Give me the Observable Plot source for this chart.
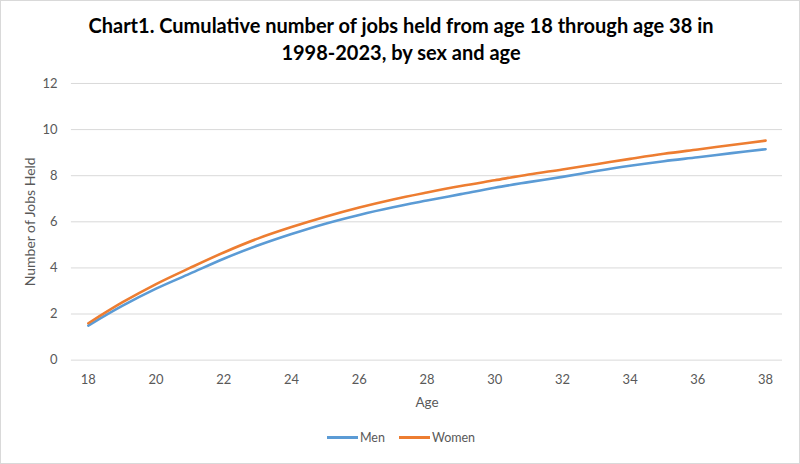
<!DOCTYPE html>
<html>
<head>
<meta charset="utf-8">
<script src="https://cdn.jsdelivr.net/npm/d3@7"></script>
<script src="https://cdn.jsdelivr.net/npm/@observablehq/plot@0.6"></script>
<style>
  html, body { margin: 0; padding: 0; background: #fff; }
  #wrap { position: relative; width: 800px; height: 464px; box-sizing: border-box; border: 1px solid #d9d9d9; overflow: hidden; font-family: Lato, "Open Sans", sans-serif; }
  #title { position: absolute; left: 0; top: 11px; width: 800px; text-align: center; font-weight: bold; font-size: 20px; line-height: 27px; color: #000; }
  #chart { position: absolute; left: -1px; top: 65px; }
  #legend { position: absolute; left: 0; top: 429px; width: 800px; display: flex; justify-content: center; gap: 14px; font-size: 12.5px; color: #595959; }
  .item { display: flex; align-items: center; gap: 2px; }
  .sw { width: 31px; height: 3px; display: inline-block; }
</style>
</head>
<body>
<div id="wrap">
  <div id="title">Chart1. Cumulative number of jobs held from age 18 through age 38 in<br>1998-2023, by sex and age</div>
  <div id="chart"></div>
  <div id="legend"></div>
</div>
<script>
const ages = [18,19,20,21,22,23,24,25,26,27,28,29,30,31,32,33,34,35,36,37,38];
const men = [1.5,2.35,3.1,3.75,4.4,4.97,5.47,5.92,6.3,6.63,6.92,7.2,7.48,7.72,7.95,8.2,8.43,8.63,8.8,8.98,9.15];
const women = [1.6,2.5,3.3,4.0,4.67,5.27,5.77,6.22,6.62,6.97,7.27,7.55,7.8,8.05,8.27,8.5,8.73,8.95,9.14,9.33,9.52];
const seriesNames = ["Men", "Women"];
const seriesColors = ["#5B9BD5", "#ED7D31"];
const xTicks = [18,20,22,24,26,28,30,32,34,36,38];
const yTicks = [0,2,4,6,8,10,12];

const rows = [];
ages.forEach((a, i) => {
  rows.push({age: a, value: men[i], sex: "Men"});
  rows.push({age: a, value: women[i], sex: "Women"});
});

const plot = Plot.plot({
  width: 800,
  height: 350,
  marginLeft: 71,
  marginRight: 17,
  marginTop: 17,
  marginBottom: 56,
  style: {fontFamily: "Lato, 'Open Sans', sans-serif", fontSize: "13px", color: "#595959", background: "transparent"},
  x: {domain: [17.5, 38.5], ticks: xTicks, tickSize: 0, tickPadding: 14, label: null},
  y: {domain: [0, 12], ticks: yTicks, tickSize: 0, tickPadding: 14, label: null},
  color: {domain: seriesNames, range: seriesColors},
  marks: [
    Plot.gridY(yTicks, {stroke: "#d9d9d9", strokeOpacity: 1, strokeWidth: 1}),
    Plot.axisX({ticks: xTicks, tickSize: 0, tickPadding: 15, fontSize: 13, fill: "#595959"}),
    Plot.axisY({ticks: yTicks, tickSize: 0, tickPadding: 14, fontSize: 13, fill: "#595959"}),
    Plot.line(rows, {x: "age", y: "value", z: "sex", stroke: "sex", strokeWidth: 2.6, curve: "catmull-rom"}),
    Plot.text(["Age"], {frameAnchor: "bottom", dy: 47, fontSize: 13.5, fill: "#595959"}),
    Plot.text(["Number of Jobs Held"], {frameAnchor: "left", textAnchor: "middle", dx: -41, rotate: -90, fontSize: 14, fill: "#595959"})
  ]
});
document.getElementById("chart").appendChild(plot);

const legend = document.getElementById("legend");
seriesNames.forEach((n, i) => {
  const it = document.createElement("div");
  it.className = "item";
  const sw = document.createElement("span");
  sw.className = "sw";
  sw.style.background = seriesColors[i];
  const t = document.createElement("span");
  t.textContent = n;
  it.appendChild(sw); it.appendChild(t);
  legend.appendChild(it);
});
</script>
</body>
</html>
